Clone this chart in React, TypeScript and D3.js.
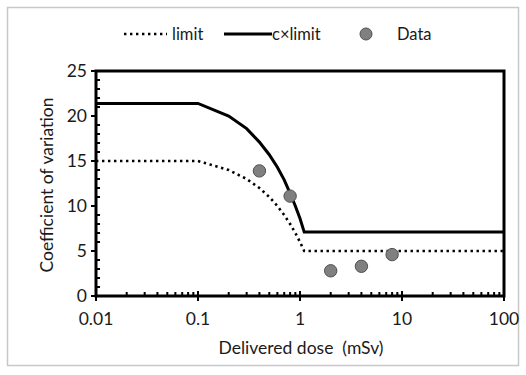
import React from "react";
import * as d3 from "d3";

// curve sample points (dose in mSv)
const doses = [0.01, 0.1, 0.2, 0.3, 0.4, 0.5, 0.6, 0.7, 0.8, 0.9, 1.0, 1.1, 100];
const limitValues = [15, 15, 14, 13, 12, 11, 10, 9, 8, 7, 6, 5, 5];
const cLimitValues = [21.4, 21.4, 20.0, 18.6, 17.1, 15.7, 14.3, 12.9, 11.4, 10.0, 8.6, 7.1, 7.1];

// measured data
const dataDoses = [0.4, 0.8, 2, 4, 8];
const dataCV = [13.9, 11.1, 2.8, 3.3, 4.6];

const xTicks = [0.01, 0.1, 1, 10, 100];
const xTickLabels = ["0.01", "0.1", "1", "10", "100"];
const yTicks = [0, 5, 10, 15, 20, 25];

const font = "Lato, 'Noto Sans', sans-serif";

export default function App() {
  const width = 526;
  const height = 375;
  const x = d3.scaleLog().domain([0.01, 100]).range([96, 504]);
  const y = d3.scaleLinear().domain([0, 25]).range([296, 71]);

  const line = d3
    .line<[number, number]>()
    .x((d) => x(d[0]))
    .y((d) => y(d[1]));

  const limitPts = doses.map((d, i) => [d, limitValues[i]] as [number, number]);
  const cLimitPts = doses.map((d, i) => [d, cLimitValues[i]] as [number, number]);

  // minor ticks
  const xMinor: number[] = [];
  for (let e = -2; e < 2; e++) {
    for (let k = 2; k <= 9; k++) xMinor.push(k * Math.pow(10, e));
  }
  const yMinor = d3.range(1, 25).filter((v) => v % 5 !== 0);

  return (
    <svg
      width={width}
      height={height}
      style={{ position: "absolute", left: 0, top: 0, background: "#fff" }}
    >
      <rect x={7.5} y={7.5} width={511} height={358} fill="#fff" stroke="#c8c8c8" strokeWidth={1.5} />

      {/* legend */}
      <g fontFamily={font} fontSize={16.5} fill="#1a1a1a">
        <line x1={124} x2={167} y1={34} y2={34} stroke="#000" strokeWidth={2.6} strokeDasharray="2.4 3.6" />
        <text x={172} y={39.5}>limit</text>
        <line x1={224} x2={272} y1={34} y2={34} stroke="#000" strokeWidth={3} />
        <text x={272} y={39.5}>c×limit</text>
        <circle cx={366} cy={34} r={6} fill="#808080" stroke="#505050" strokeWidth={1} />
        <text x={397} y={39.5}>Data</text>
      </g>

      {/* curves */}
      <path d={line(limitPts) || ""} fill="none" stroke="#000" strokeWidth={2.6} strokeDasharray="2.4 3.6" />
      <path d={line(cLimitPts) || ""} fill="none" stroke="#000" strokeWidth={3} />

      {/* data points */}
      {dataDoses.map((d, i) => (
        <circle key={i} cx={x(d)} cy={y(dataCV[i])} r={6.2} fill="#808080" stroke="#505050" strokeWidth={1} />
      ))}

      {/* frame */}
      <rect x={96} y={71} width={408} height={225} fill="none" stroke="#000" strokeWidth={3} />

      {/* y ticks */}
      {yMinor.map((v) => (
        <line key={"ym" + v} x1={96} x2={100} y1={y(v)} y2={y(v)} stroke="#000" strokeWidth={2} />
      ))}
      {yTicks.map((v) => (
        <line key={"yt" + v} x1={91} x2={96} y1={y(v)} y2={y(v)} stroke="#000" strokeWidth={2} />
      ))}
      {/* x ticks */}
      {xMinor.map((v, i) => (
        <line key={"xm" + i} x1={x(v)} x2={x(v)} y1={296} y2={292} stroke="#000" strokeWidth={2} />
      ))}
      {xTicks.map((v) => (
        <line key={"xt" + v} x1={x(v)} x2={x(v)} y1={291} y2={301} stroke="#000" strokeWidth={2} />
      ))}

      <g fontFamily={font} fontSize={17.5} fill="#1a1a1a">
        {yTicks.map((v) => (
          <text key={"yl" + v} x={87} y={y(v) + 6} textAnchor="end">
            {v}
          </text>
        ))}
        {xTicks.map((v, i) => (
          <text key={"xl" + v} x={x(v)} y={325} textAnchor="middle">
            {xTickLabels[i]}
          </text>
        ))}
      </g>

      <g fontFamily={font} fontSize={17.5} fill="#1a1a1a">
        <text x={301} y={354} textAnchor="middle" style={{ whiteSpace: "pre" }}>
          {"Delivered dose  (mSv)"}
        </text>
        <text transform="translate(53,185) rotate(-90)" textAnchor="middle">
          Coefficient of variation
        </text>
      </g>
    </svg>
  );
}
